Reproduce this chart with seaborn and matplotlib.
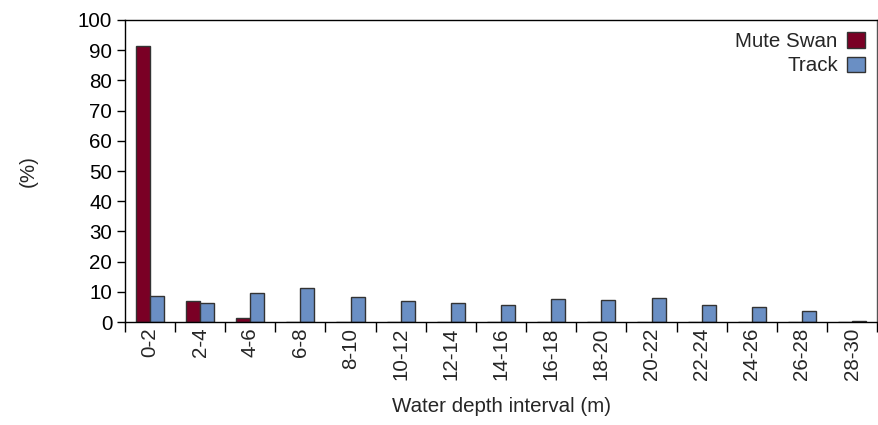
import numpy as np
import pandas as pd
import matplotlib
matplotlib.use("Agg")
import matplotlib.pyplot as plt
import seaborn as sns
from matplotlib.ticker import FixedLocator

# Depth intervals (m)
intervals = ["0-2", "2-4", "4-6", "6-8", "8-10", "10-12", "12-14", "14-16",
             "16-18", "18-20", "20-22", "22-24", "24-26", "26-28", "28-30"]
# Share of observations per depth interval (%)
mute_swan = [91.4, 7.1, 1.3, 0.1, 0, 0, 0, 0, 0, 0, 0, 0, 0, 0, 0]
track = [8.7, 6.3, 9.7, 11.2, 8.4, 7.0, 6.3, 5.6, 7.6, 7.4, 8.0, 5.8, 5.1, 3.6, 0.4]
series_names = ["Mute Swan", "Track"]
colors = ["#7a0025", "#6a8fc4"]

df = pd.DataFrame({
    "interval": intervals * 2,
    "value": mute_swan + track,
    "series": [series_names[0]] * len(intervals) + [series_names[1]] * len(intervals),
})

sns.set_style("ticks")
plt.rcParams["font.family"] = ["Liberation Sans", "DejaVu Sans"]
FS = 14.8

fig = plt.figure(figsize=(8.79, 4.25), dpi=100)
ax = fig.add_axes([0.142, 0.242, 0.856, 0.711])

sns.barplot(data=df, x="interval", y="value", hue="series", order=intervals,
            hue_order=series_names, palette=colors, width=0.56,
            edgecolor="#333333", linewidth=1.0, saturation=1, ax=ax)

ax.set_xlim(-0.5, len(intervals) - 0.5)
ax.set_ylim(0, 100)
ax.set_yticks(np.arange(0, 101, 10))
ax.tick_params(axis="y", direction="out", length=6, width=1, labelsize=FS,
               colors="black", pad=3)
ax.tick_params(axis="x", which="major", length=0, labelsize=FS, pad=4)
ax.xaxis.set_minor_locator(FixedLocator(np.arange(-0.5, len(intervals), 1.0)))
ax.tick_params(axis="x", which="minor", direction="out", length=7, width=1,
               colors="black")
for lbl in ax.get_xticklabels():
    lbl.set_rotation(90)

for side in ["left", "bottom", "top", "right"]:
    ax.spines[side].set_visible(True)
    ax.spines[side].set_color("black")
    ax.spines[side].set_linewidth(1.0)
ax.spines["right"].set_color("#555555")

ax.set_xlabel("Water depth interval (m)", fontsize=FS, labelpad=12)
ax.set_ylabel("(%)", fontsize=FS, labelpad=29)

leg = ax.legend(loc="upper right", frameon=False, markerfirst=False,
                fontsize=FS, handlelength=0.87, handleheight=0.77,
                handletextpad=0.45, labelspacing=0.25, borderaxespad=0.2)
for h in leg.legend_handles:
    h.set_edgecolor("#333333")
    h.set_linewidth(1.0)

fig.savefig("out.png", dpi=100)
